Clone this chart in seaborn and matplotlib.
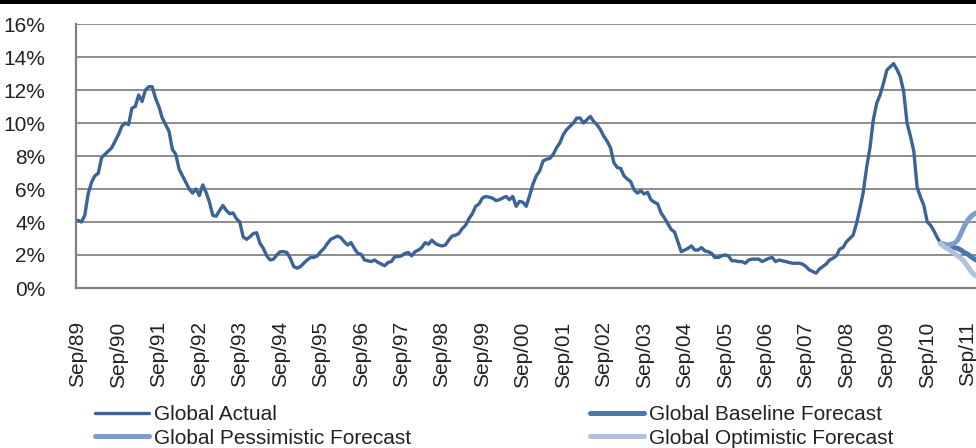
import numpy as np
import pandas as pd
import matplotlib
matplotlib.use("Agg")
import matplotlib.pyplot as plt
from matplotlib.patches import Rectangle
import seaborn as sns

# monthly unemployment-style rates, Sep/89 onwards (%)
actual = [
    4.1, 4.0, 4.4, 5.7, 6.4, 6.8, 6.95, 7.9, 8.1, 8.3, 8.5, 8.9,
    9.3, 9.8, 10.0, 9.9, 10.9, 11.0, 11.7, 11.3, 12.0, 12.2, 12.2, 11.5,
    11.0, 10.3, 9.9, 9.5, 8.4, 8.1, 7.2, 6.8, 6.4, 6.0, 5.75, 6.0,
    5.6, 6.25, 5.8, 5.2, 4.4, 4.35, 4.7, 5.0, 4.7, 4.5, 4.55, 4.2,
    4.0, 3.1, 2.95, 3.1, 3.3, 3.35, 2.7, 2.4, 1.95, 1.7, 1.75, 2.0,
    2.2, 2.2, 2.15, 1.8, 1.3, 1.2, 1.3, 1.5, 1.7, 1.85, 1.85, 1.95,
    2.2, 2.4, 2.7, 2.95, 3.05, 3.15, 3.05, 2.8, 2.6, 2.75, 2.4, 2.1,
    2.05, 1.7, 1.65, 1.6, 1.7, 1.55, 1.45, 1.35, 1.55, 1.6, 1.9, 1.9,
    1.95, 2.1, 2.15, 1.95, 2.2, 2.3, 2.45, 2.75, 2.65, 2.9, 2.7, 2.6,
    2.55, 2.6, 2.9, 3.15, 3.2, 3.3, 3.6, 3.8, 4.2, 4.5, 4.95, 5.1,
    5.45, 5.55, 5.5, 5.45, 5.3, 5.35, 5.45, 5.55, 5.35, 5.55, 4.95, 5.25,
    5.2, 4.95, 5.6, 6.3, 6.8, 7.1, 7.7, 7.8, 7.85, 8.1, 8.5, 8.8,
    9.3, 9.6, 9.8, 10.0, 10.3, 10.3, 10.0, 10.2, 10.4, 10.1, 9.9, 9.6,
    9.2, 8.9, 8.5, 7.6, 7.3, 7.25, 6.8, 6.6, 6.45, 5.95, 5.75, 5.9,
    5.7, 5.8, 5.35, 5.2, 5.1, 4.55, 4.25, 3.9, 3.55, 3.4, 2.8, 2.2,
    2.3, 2.4, 2.55, 2.3, 2.3, 2.45, 2.25, 2.2, 2.1, 1.85, 1.85, 1.95,
    2.0, 1.95, 1.65, 1.65, 1.6, 1.6, 1.5, 1.7, 1.75, 1.75, 1.75, 1.6,
    1.7, 1.8, 1.85, 1.6, 1.7, 1.65, 1.6, 1.55, 1.5, 1.5, 1.5, 1.45,
    1.3, 1.1, 1.0, 0.9, 1.15, 1.3, 1.45, 1.7, 1.8, 1.95, 2.35, 2.45,
    2.8, 3.0, 3.2, 3.9, 4.8, 5.8, 7.3, 8.5, 10.2, 11.2, 11.7, 12.4,
    13.2, 13.4, 13.6, 13.25, 12.8, 11.9, 10.0, 9.2, 8.3, 6.1, 5.5, 5.0,
    4.0, 3.8, 3.45, 3.05, 2.7,
]
baseline = [2.7, 2.65, 2.55, 2.5, 2.45, 2.4, 2.3, 2.15, 2.05, 1.9, 1.75, 1.65, 1.6]
pessimistic = [2.7, 2.65, 2.6, 2.65, 2.7, 2.9, 3.3, 3.75, 4.1, 4.35, 4.5, 4.6, 4.7]
optimistic = [2.7, 2.5, 2.4, 2.25, 2.1, 1.95, 1.8, 1.6, 1.3, 1.0, 0.8, 0.7, 0.65]

tick_labels = ["Sep/%02d" % (y % 100) for y in range(1989, 2012)]
y_ticks = [0, 2, 4, 6, 8, 10, 12, 14, 16]

start = len(actual) - 1
df_act = pd.DataFrame({"month": np.arange(len(actual)), "rate": actual})
df_base = pd.DataFrame({"month": start + np.arange(len(baseline)), "rate": baseline})
df_pess = pd.DataFrame({"month": start + np.arange(len(pessimistic)), "rate": pessimistic})
df_opt = pd.DataFrame({"month": start + np.arange(len(optimistic)), "rate": optimistic})

sns.set_theme(style="white")
plt.rcParams["font.family"] = ["Liberation Sans", "DejaVu Sans"]

fig = plt.figure(figsize=(9.76, 4.48), dpi=100)
px_per_month = 3.37
left_px, top_px, bottom_px = 76, 24, 288
x0, x1 = -0.6, 280
ax = fig.add_axes([left_px / 976, (448 - bottom_px) / 448,
                   (x1 - x0) * px_per_month / 976, (bottom_px - top_px) / 448])

c_act, c_base, c_pess, c_opt = "#3A6397", "#4A76B4", "#7D9DCB", "#AFC1DD"

sns.lineplot(data=df_act, x="month", y="rate", ax=ax, color=c_act, lw=2.4,
             label="Global Actual", zorder=3)
sns.lineplot(data=df_base, x="month", y="rate", ax=ax, color=c_base, lw=3.6,
             label="Global Baseline Forecast", zorder=4)
sns.lineplot(data=df_pess, x="month", y="rate", ax=ax, color=c_pess, lw=3.6,
             label="Global Pessimistic Forecast", zorder=4)
sns.lineplot(data=df_opt, x="month", y="rate", ax=ax, color=c_opt, lw=3.6,
             label="Global Optimistic Forecast", zorder=4)

ax.set_xlim(x0, x1)
ax.set_ylim(0, 16)
ax.set_yticks(y_ticks)
ax.set_yticklabels([f"{t}%" for t in y_ticks])
ax.set_xticks(np.arange(len(tick_labels)) * 12)
ax.set_xticklabels(tick_labels, rotation=90)
ax.set_xlabel("")
ax.set_ylabel("")
ax.tick_params(axis="y", length=0, pad=22, labelsize=15, labelcolor="#222222")
ax.tick_params(axis="x", length=0, pad=24, labelsize=15, labelcolor="#222222")
ax.grid(axis="y", color="#8C8C8C", lw=1.4)
ax.grid(axis="x", visible=False)
for side in ["top", "right"]:
    ax.spines[side].set_visible(False)
for side in ["left", "bottom"]:
    ax.spines[side].set_color("#808080")
    ax.spines[side].set_linewidth(1.6)

handles, labels = ax.get_legend_handles_labels()
ax.get_legend().remove()
leg_kw = dict(loc="upper left", frameon=False, borderpad=0, borderaxespad=0,
              handlelength=2.6, handletextpad=0.25, labelspacing=0.22,
              fontsize=15, labelcolor="#222222")
fig.legend([handles[0], handles[2]], [labels[0], labels[2]],
           bbox_to_anchor=(95 / 976, (448 - 405) / 448), **leg_kw)
fig.legend([handles[1], handles[3]], [labels[1], labels[3]],
           bbox_to_anchor=(590 / 976, (448 - 405) / 448), **leg_kw)

fig.add_artist(Rectangle((0, 1 - 4 / 448), 1, 4 / 448, transform=fig.transFigure,
                         color="black", lw=0))

fig.savefig("out.png", dpi=100)
